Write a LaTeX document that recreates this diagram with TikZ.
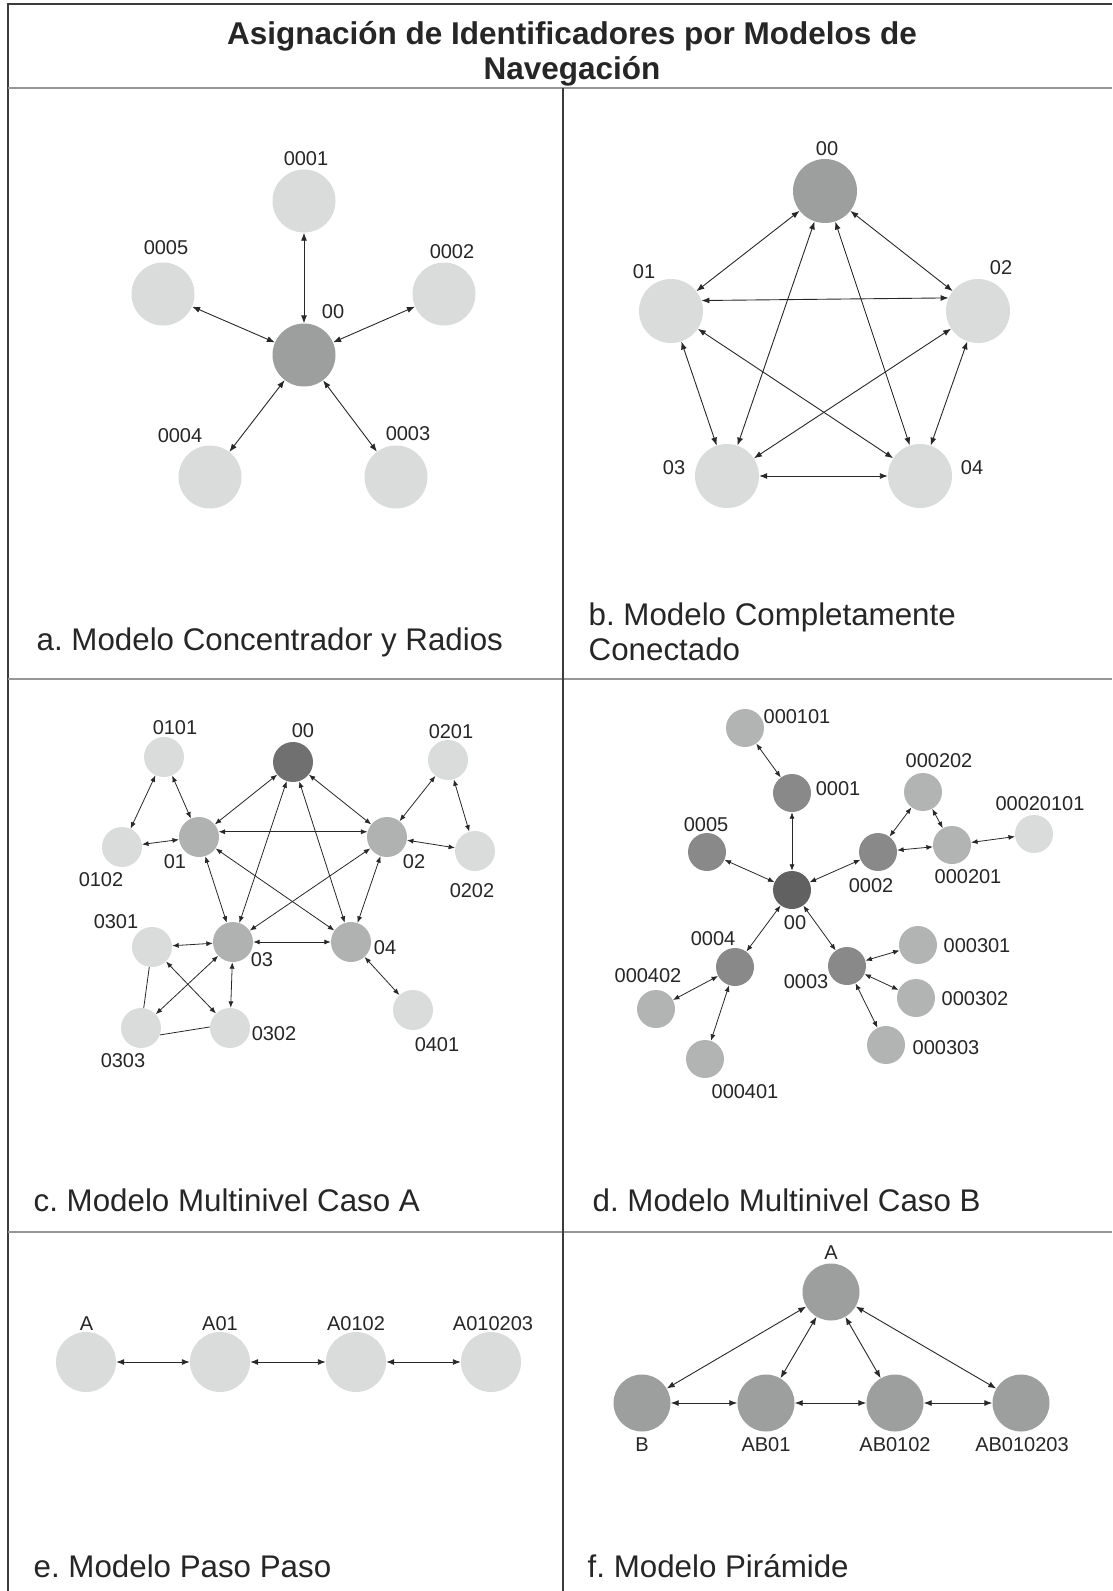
\documentclass[tikz,border=0pt]{standalone}
\usepackage{fontspec}
\setmainfont{Liberation Sans}
\usetikzlibrary{arrows.meta}
\frenchspacing

\definecolor{nodelight}{RGB}{218,219,219}
\definecolor{nodemid}{RGB}{157,158,158}
\definecolor{cdark}{RGB}{112,112,112}
\definecolor{clevel}{RGB}{176,177,177}
\definecolor{ddark}{RGB}{97,97,97}
\definecolor{dlevel}{RGB}{137,137,137}
\definecolor{dsub}{RGB}{178,179,179}
\definecolor{rulegray}{RGB}{150,150,150}
\definecolor{framedark}{RGB}{60,60,60}
\definecolor{edgecol}{RGB}{40,40,40}

\tikzset{
  dot/.style={circle, inner sep=0pt, minimum size=#1},
  lbl/.style={inner sep=0pt, font=\fontsize{20}{24}\selectfont, text=black!85},
  caption/.style={inner sep=0pt, anchor=base west, font=\fontsize{31.3}{36}\selectfont, text=black!85},
  heading/.style={inner sep=0pt, anchor=base, font=\fontsize{31.5}{36}\selectfont\bfseries, text=black!85},
  bigarr/.style={{Latex[length=8pt,width=6pt]}-{Latex[length=8pt,width=6pt]}, draw=edgecol, line width=0.9pt},
  smallarr/.style={{Latex[length=6.5pt,width=5pt]}-{Latex[length=6.5pt,width=5pt]}, draw=edgecol, line width=0.8pt},
  plainline/.style={draw=edgecol, line width=0.8pt},
  hrule/.style={draw=rulegray, line width=2pt},
  vrule/.style={draw=framedark, line width=1.3pt}
}

\begin{document}
\begin{tikzpicture}[x=1pt, y=-1pt]
\useasboundingbox[fill=white] (0,0) rectangle (1112,1591);

% table frame
\draw[vrule] (8,1591) -- (8,4) -- (1112,4);
\draw[hrule] (8,88) -- (1112,88);
\draw[hrule] (8,679) -- (1112,679);
\draw[hrule] (8,1232) -- (1112,1232);
\draw[vrule] (563,88) -- (563,1591);

% heading
\node[heading] (title1) at (572,44) {Asignación de Identificadores por Modelos de};
\node[heading] (title2) at (572,79) {Navegación};

% captions
\node[caption] (capa) at (36.5,650) {a. Modelo Concentrador y Radios};
\node[caption] (capb1) at (588.5,625) {b. Modelo Completamente};
\node[caption] (capb2) at (588.5,660) {Conectado};
\node[caption] (capc) at (33.5,1211) {c. Modelo Multinivel Caso A};
\node[caption] (capd) at (592.5,1211) {d. Modelo Multinivel Caso B};
\node[caption] (cape) at (33.5,1577) {e. Modelo Paso Paso};
\node[caption] (capf) at (587.5,1577) {f. Modelo Pirámide};

% ---------- a: hub and spokes ----------
\node[dot=63, fill=nodemid] (a00) at (304,355) {};
\node[dot=63, fill=nodelight] (a0001) at (304,201) {};
\node[dot=63, fill=nodelight] (a0002) at (444,294) {};
\node[dot=63, fill=nodelight] (a0003) at (396,477) {};
\node[dot=63, fill=nodelight] (a0004) at (210,477) {};
\node[dot=63, fill=nodelight] (a0005) at (163,294) {};
\node[lbl] (la00) at (333,312) {00};
\node[lbl] (la0001) at (306,159) {0001};
\node[lbl] (la0002) at (452,252) {0002};
\node[lbl] (la0003) at (408,434) {0003};
\node[lbl] (la0004) at (180,436) {0004};
\node[lbl] (la0005) at (166,248) {0005};
\foreach \n in {0001,0002,0003,0004,0005}
  \draw[bigarr] (a00) -- (a\n);

% ---------- b: fully connected ----------
\node[dot=64, fill=nodemid] (b00) at (825,191) {};
\node[dot=64, fill=nodelight] (b01) at (671,311) {};
\node[dot=64, fill=nodelight] (b02) at (978,311) {};
\node[dot=64, fill=nodelight] (b03) at (727,476) {};
\node[dot=64, fill=nodelight] (b04) at (920,476) {};
\node[lbl] (lb00) at (827,149) {00};
\node[lbl] (lb01) at (644,272) {01};
\node[lbl] (lb02) at (1001,268) {02};
\node[lbl] (lb03) at (674,468) {03};
\node[lbl] (lb04) at (972,468) {04};
\draw[bigarr] (b00) -- (b01);
\draw[bigarr] (b00) -- (b02);
\draw[bigarr] (b00) -- (b03);
\draw[bigarr] (b00) -- (b04);
\draw[bigarr] (b01.19) -- (b02.156);
\draw[bigarr] (b01) -- (b03);
\draw[bigarr] (b01) -- (b04);
\draw[bigarr] (b02) -- (b03);
\draw[bigarr] (b02) -- (b04);
\draw[bigarr] (b03) -- (b04);

% ---------- c: multilevel, case A ----------
\node[dot=40, fill=cdark] (c00) at (293,762) {};
\node[dot=40, fill=clevel] (c01) at (199,837) {};
\node[dot=40, fill=clevel] (c02) at (387,837) {};
\node[dot=40, fill=clevel] (c03) at (233,942) {};
\node[dot=40, fill=clevel] (c04) at (351,942) {};
\node[dot=40, fill=nodelight] (c0101) at (164,757) {};
\node[dot=40, fill=nodelight] (c0102) at (122,847) {};
\node[dot=40, fill=nodelight] (c0201) at (448,760) {};
\node[dot=40, fill=nodelight] (c0202) at (475,851) {};
\node[dot=40, fill=nodelight] (c0301) at (152,947) {};
\node[dot=40, fill=nodelight] (c0302) at (230,1028) {};
\node[dot=40, fill=nodelight] (c0303) at (141,1028) {};
\node[dot=40, fill=nodelight] (c0401) at (413,1010) {};
\node[lbl] (lc00) at (303,731) {00};
\node[lbl] (lc01) at (175,862) {01};
\node[lbl] (lc02) at (414,862) {02};
\node[lbl] (lc03) at (262,960) {03};
\node[lbl] (lc04) at (385,948) {04};
\node[lbl] (lc0101) at (175,728) {0101};
\node[lbl] (lc0102) at (101,880) {0102};
\node[lbl] (lc0201) at (451,732) {0201};
\node[lbl] (lc0202) at (472,891) {0202};
\node[lbl] (lc0301) at (116,922) {0301};
\node[lbl] (lc0302) at (274,1034) {0302};
\node[lbl] (lc0303) at (123,1061) {0303};
\node[lbl] (lc0401) at (437,1045) {0401};
\draw[smallarr] (c00) -- (c01);
\draw[smallarr] (c00) -- (c02);
\draw[smallarr] (c00) -- (c03);
\draw[smallarr] (c00) -- (c04);
\draw[smallarr] (c01.15) -- (c02.165);
\draw[smallarr] (c01) -- (c03);
\draw[smallarr] (c01) -- (c04);
\draw[smallarr] (c02) -- (c03);
\draw[smallarr] (c02) -- (c04);
\draw[smallarr] (c03) -- (c04);
\draw[smallarr] (c0101) -- (c01);
\draw[smallarr] (c0101) -- (c0102);
\draw[smallarr] (c0102) -- (c01);
\draw[smallarr] (c0201) -- (c02);
\draw[smallarr] (c0201) -- (c0202);
\draw[smallarr] (c0202) -- (c02);
\draw[smallarr] (c0301) -- (c03);
\draw[smallarr] (c0303) -- (c03);
\draw[smallarr] (c0302) -- (c03);
\draw[smallarr] (c0301) -- (c0302);
\draw[plainline] (c0301) -- (c0303);
\draw[plainline] (c0303.-20) -- (c0302.177);
\draw[smallarr] (c04) -- (c0401);

% ---------- d: multilevel, case B ----------
\node[dot=38, fill=ddark] (d00) at (792,890) {};
\node[dot=38, fill=dlevel] (d0001) at (792,793) {};
\node[dot=38, fill=dlevel] (d0002) at (878,852) {};
\node[dot=38, fill=dlevel] (d0003) at (847,966) {};
\node[dot=38, fill=dlevel] (d0004) at (735,967) {};
\node[dot=38, fill=dlevel] (d0005) at (707,852) {};
\node[dot=38, fill=dsub] (d000101) at (745,728) {};
\node[dot=38, fill=dsub] (d000201) at (952,845) {};
\node[dot=38, fill=dsub] (d000202) at (923,792) {};
\node[dot=38, fill=nodelight] (d00020101) at (1034,834) {};
\node[dot=38, fill=dsub] (d000301) at (918,945) {};
\node[dot=38, fill=dsub] (d000302) at (916,998) {};
\node[dot=38, fill=dsub] (d000303) at (886,1045) {};
\node[dot=38, fill=dsub] (d000401) at (705,1059) {};
\node[dot=38, fill=dsub] (d000402) at (656,1009) {};
\node[lbl] (ld00) at (795,923) {00};
\node[lbl] (ld0001) at (838,789) {0001};
\node[lbl] (ld0002) at (871,886) {0002};
\node[lbl] (ld0003) at (806,982) {0003};
\node[lbl] (ld0004) at (713,939) {0004};
\node[lbl] (ld0005) at (706,825) {0005};
\node[lbl] (ld000101) at (797,717) {000101};
\node[lbl] (ld000201) at (968,877) {000201};
\node[lbl] (ld000202) at (939,761) {000202};
\node[lbl] (ld00020101) at (1040,804) {00020101};
\node[lbl] (ld000301) at (977,946) {000301};
\node[lbl] (ld000302) at (975,999) {000302};
\node[lbl] (ld000303) at (946,1048) {000303};
\node[lbl] (ld000401) at (745,1092) {000401};
\node[lbl] (ld000402) at (648,976) {000402};
\draw[smallarr] (d000101) -- (d0001);
\draw[smallarr] (d0001) -- (d00);
\draw[smallarr] (d0005) -- (d00);
\draw[smallarr] (d00) -- (d0002);
\draw[smallarr] (d0002) -- (d000202);
\draw[smallarr] (d000202) -- (d000201);
\draw[smallarr] (d0002) -- (d000201);
\draw[smallarr] (d000201) -- (d00020101);
\draw[smallarr] (d00) -- (d0004);
\draw[smallarr] (d00) -- (d0003);
\draw[smallarr] (d0004) -- (d000402);
\draw[smallarr] (d0004) -- (d000401);
\draw[smallarr] (d0003) -- (d000301);
\draw[smallarr] (d0003) -- (d000302);
\draw[smallarr] (d0003) -- (d000303);

% ---------- e: step by step ----------
\node[dot=60, fill=nodelight] (eA) at (86,1362) {};
\node[dot=60, fill=nodelight] (eA01) at (220,1362) {};
\node[dot=60, fill=nodelight] (eA0102) at (356,1362) {};
\node[dot=60, fill=nodelight] (eA010203) at (491,1362) {};
\node[lbl] (leA) at (86.5,1324) {A};
\node[lbl] (leA01) at (220,1324) {A01};
\node[lbl] (leA0102) at (356,1324) {A0102};
\node[lbl] (leA010203) at (493,1324) {A010203};
\draw[bigarr] (eA) -- (eA01);
\draw[bigarr] (eA01) -- (eA0102);
\draw[bigarr] (eA0102) -- (eA010203);

% ---------- f: pyramid ----------
\node[dot=57, fill=nodemid] (fA) at (831,1292) {};
\node[dot=57, fill=nodemid] (fB) at (642,1403) {};
\node[dot=57, fill=nodemid] (fAB01) at (766,1403) {};
\node[dot=57, fill=nodemid] (fAB0102) at (895,1403) {};
\node[dot=57, fill=nodemid] (fAB010203) at (1021,1403) {};
\node[lbl] (lfA) at (831,1253) {A};
\node[lbl] (lfB) at (642,1445) {B};
\node[lbl] (lfAB01) at (766,1445) {AB01};
\node[lbl] (lfAB0102) at (895,1445) {AB0102};
\node[lbl] (lfAB010203) at (1022,1445) {AB010203};
\draw[bigarr] (fA) -- (fB);
\draw[bigarr] (fA) -- (fAB01);
\draw[bigarr] (fA) -- (fAB0102);
\draw[bigarr] (fA) -- (fAB010203);
\draw[bigarr] (fB) -- (fAB01);
\draw[bigarr] (fAB01) -- (fAB0102);
\draw[bigarr] (fAB0102) -- (fAB010203);
\end{tikzpicture}
\end{document}
